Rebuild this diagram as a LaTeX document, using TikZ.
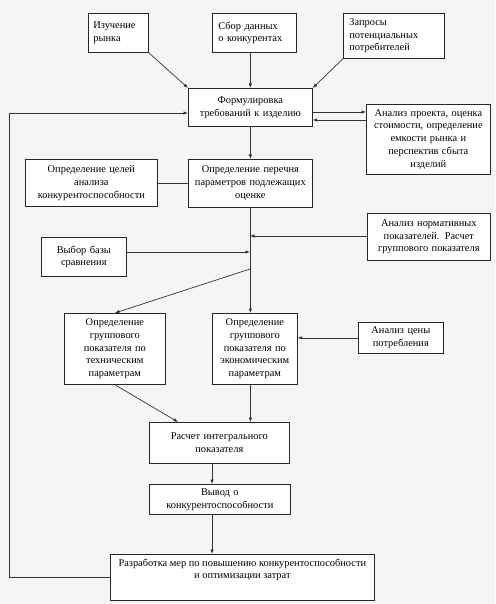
\documentclass[tikz,border=0pt]{standalone}
\usepackage{fontspec}
\setmainfont{Liberation Serif}
\usetikzlibrary{arrows.meta,calc}
\begin{document}
\begin{tikzpicture}[x=1pt,y=-1pt,
  box/.style={draw=black!85, fill=white, line width=0.7pt, inner sep=0pt,
    align=center, anchor=north west, font=\fontsize{10.4}{12.8}\selectfont},
  lbox/.style={box, align=left},
  txt/.style={inner sep=0pt, align=center, font=\fontsize{10.4}{12.8}\selectfont},
  conn/.style={draw=black!80, line width=0.7pt},
  arr/.style={conn, -{Latex[length=4.5pt,width=3.5pt]}}
]
\useasboundingbox (0,0) rectangle (495,604);
\fill[black!4] (0,0) rectangle (495,604);

% top inputs
\node[lbox, minimum width=60, minimum height=39, text width=50] (izuch) at (88,13) {Изучение\\рынка};
\node[lbox, minimum width=84, minimum height=39, text width=72] (sbor) at (212,13) {Сбор данных\\о конкурентах};
\node[lbox, minimum width=101, minimum height=45, text width=89] (zapr) at (343,13) {Запросы\\потенциальных\\потребителей};

\node[box, minimum width=124, minimum height=38, text width=120] (form) at (188,88) {Формулировка\\требований к изделию};
\node[box, minimum width=124, minimum height=70, text width=120] (proj) at (366,104) {Анализ проекта, оценка\\стоимости, определение\\емкости рынка и\\перспектив сбыта\\изделий};

\node[box, minimum width=132, minimum height=47, text width=128] (celi) at (25,159) {Определение целей\\анализа\\конкурентоспособности};
\node[box, minimum width=124, minimum height=48, text width=120] (perech) at (188,159) {Определение перечня\\параметров подлежащих\\оценке};

\node[box, minimum width=123, minimum height=47, text width=119] (norm) at (367,213) {Анализ нормативных\\показателей. Расчет\\группового показателя};
\node[box, minimum width=85, minimum height=39, text width=81] (vybor) at (41,237) {Выбор базы\\сравнения};

\node[box, minimum width=101, minimum height=71, text width=97] (tech) at (64,313) {Определение\\группового\\показателя по\\техническим\\параметрам};
\node[box, minimum width=85, minimum height=71, text width=83] (econ) at (212,313) {Определение\\группового\\показателя по\\экономическим\\параметрам};
\node[box, minimum width=85, minimum height=31, text width=81] (cena) at (358,322) {Анализ цены\\потребления};

\node[box, minimum width=140, minimum height=41, text width=136] (rasch) at (149,422) {Расчет интегрального\\показателя\\[3pt]};
\node[box, minimum width=141, minimum height=30, text width=137] (vyvod) at (149,484) {Вывод о\\конкурентоспособности};
\node[box, minimum width=264, minimum height=46, text width=260] (razr) at (110,554) {};
\node[txt, anchor=north] (razrtxt) at ($(razr.north)+(0,4.5)$) {Разработка мер по повышению конкурентоспособности\\и оптимизации затрат};

% helper coordinates
\coordinate (yfb) at (0,113);
\coordinate (yp1) at (0,112);
\coordinate (yp2) at (0,120);
\coordinate (j1) at (250,236);
\coordinate (j2) at (250,252);
\coordinate (j3) at (250,269);
\coordinate (rin) at (178,422);
\coordinate (xv) at (212,0);
\coordinate (xfb) at (9,0);

% connectors
\draw[arr] (izuch.south east) -- (form.north west);
\draw[arr] (form.north |- sbor.south) -- (form.north);
\draw[arr] (zapr.south west) -- (form.north east);
\draw[arr] (form.east |- yp1) -- (proj.west |- yp1);
\draw[arr] (proj.west |- yp2) -- (form.east |- yp2);
\draw[arr] (form.south) -- (perech.north);
\draw[conn] (celi.east) -- (perech.west |- celi.east);
\draw[arr] (perech.south) -- (perech.south |- econ.north);
\draw[arr] (norm.west |- j1) -- (j1);
\draw[arr] (vybor.east |- j2) -- (j2);
\draw[arr] (j3) -- (tech.north);
\draw[arr] (cena.west) -- (econ.east |- cena.west);
\draw[arr] (tech.south) -- (rin);
\draw[arr] (perech.south |- econ.south) -- (perech.south |- rasch.north);
\draw[arr] (xv |- rasch.south) -- (xv |- vyvod.north);
\draw[arr] (xv |- vyvod.south) -- (xv |- razr.north);
\draw[arr] (razr.west) -- (xfb |- razr.west) -- (xfb |- yfb) -- (form.west |- yfb);
\end{tikzpicture}
\end{document}
